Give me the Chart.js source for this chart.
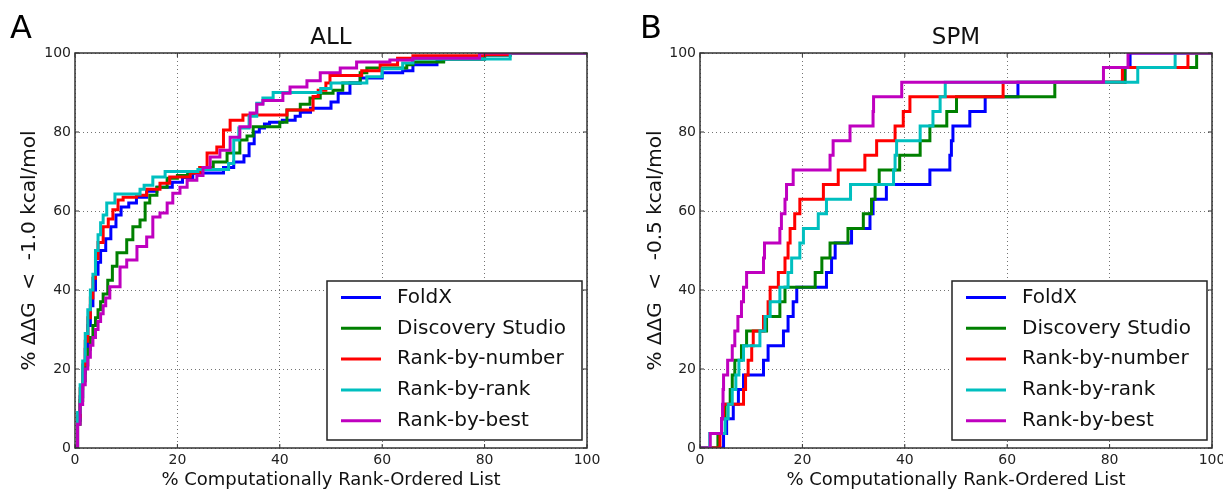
<!DOCTYPE html>
<html>
<head>
<meta charset="utf-8">
<script src="https://cdn.jsdelivr.net/npm/chart.js@4.4.1/dist/chart.umd.min.js"></script>
<style>
  body { margin: 0; background: #fff; }
  #wrap { position: relative; width: 1223px; height: 491px; }
  canvas { position: absolute; top: 0; }
</style>
</head>
<body>
<div id="wrap">
  <canvas id="chart-all" width="611" height="491" style="left:0"></canvas>
  <canvas id="chart-spm" width="612" height="491" style="left:611px"></canvas>
</div>
<script>
const seriesNames = ['FoldX', 'Discovery Studio', 'Rank-by-number', 'Rank-by-rank', 'Rank-by-best'];
const seriesColors = ['#0000ff', '#008000', '#ff0000', '#00bfbf', '#bf00bf'];
const axisTicks = [0, 20, 40, 60, 80, 100];

// panel A: ALL  ([% of list, % found])
const allFoldx = [[0,0],[0.5,7],[1,13],[1.5,19],[2,25],[2.5,31],[3,36],[3.5,40],[4,44],[4.5,47],[5,50],[6,53],[7,56],[8,59],[9,61],[10.5,62],[12,63.5],[14,65],[16,66],[19,67.3],[21,68.5],[23,69.6],[29,71],[31,72.4],[33,74],[34,77],[35,80],[36,81],[37,82],[38,82.5],[40.5,83],[43,84],[44,85],[46,86],[50,87.6],[51.4,89.8],[53.7,92.4],[55.7,93.7],[60,95],[64,95.5],[66,97],[70.7,98],[72,98.5],[80,99.5],[85,100],[100,100]];
const allDiscovery = [[0,0],[0.5,6],[1,12],[1.5,17],[2,21],[2.5,25],[3,28],[3.5,31],[4,33],[4.5,35],[5,37],[5.5,39],[6.4,42.5],[7.3,46],[8.2,49.4],[10.1,52.7],[11.3,56],[12.7,57.7],[13.7,62],[14.6,64],[16,66],[18,68.3],[20,69],[22,69.6],[24.4,71],[27,72.4],[29.7,74.7],[32.2,78],[33.6,79],[34.8,81.3],[40,82.5],[41.4,85.6],[44,87],[45.9,88.6],[47.9,89.8],[50.4,90.6],[52.3,92.4],[55.7,95],[57,96.2],[64.8,97],[66,97.7],[72,98.5],[80,99.5],[85,100],[100,100]];
const allNumber = [[0,0],[0.5,8],[1,15],[1.5,21],[2,27],[2.5,33],[3,38],[3.5,43],[4,48],[4.5,52],[5.5,56],[6.5,58],[7.4,60.3],[8.4,62.8],[9.4,63.5],[12,64],[14,65.5],[16.6,67],[18.5,68.6],[22.5,69.6],[24.4,71],[25.8,74.7],[27.7,76.2],[29,80.5],[30.3,83],[32.8,84.3],[41.4,85.6],[46.5,89],[47.5,90.6],[49,92.4],[49.8,94.3],[56,95.5],[59.6,97],[63,98.7],[66,99.3],[80,99.6],[85,100],[100,100]];
const allRank = [[0,0],[0.5,9],[1,16],[1.5,22],[2,29],[2.5,35],[3,40],[3.5,44],[4,50],[4.5,54],[5,57],[5.5,59],[6.2,62],[7.8,64.3],[12.7,65.5],[13.5,66.5],[15.2,68.6],[17.6,70],[24,70.5],[30,72],[31,78],[32,81],[34,84],[35.5,87.3],[36.7,88.6],[38.7,90],[48,91],[50,92.4],[57,94],[60,96],[64,97.5],[66,98.5],[85,100],[100,100]];
const allBest = [[0,0],[0.5,6],[1,11],[1.5,16],[2,20],[2.5,23],[3,26],[3.5,28],[4,30],[4.5,32],[5,34],[5.5,36],[6,38],[6.8,40.8],[8.8,45.8],[10.1,47.6],[12.1,51],[14,53.4],[15.2,58.5],[16.6,59.5],[18,62],[19.1,64.5],[20.5,66],[21.9,67.8],[23.8,69],[25,71],[26.4,73.7],[28.3,75.4],[30.3,78.7],[32.2,81.3],[34.2,84.8],[35.5,87],[36.7,88],[40.6,89.8],[42,91.4],[45.3,93],[47.9,95],[51.8,96.2],[55,97.7],[61.5,98.2],[66,98.7],[79,100],[100,100]];

// panel B: SPM
const spmFoldx = [[0,0],[4.6,3.7],[5.2,7.4],[6.5,11.1],[7.5,14.8],[8.5,18.5],[12.4,22.2],[13.3,25.9],[16.3,29.6],[17.2,33.3],[18.2,37.0],[18.9,40.7],[24.7,44.4],[25.7,48.1],[26.4,51.9],[29.6,55.6],[33.2,59.3],[33.8,63.0],[36.4,66.7],[44.9,70.4],[48.8,74.1],[49.1,77.8],[49.4,81.5],[52.7,85.2],[55.7,88.9],[62.1,92.6],[83,96.3],[84,100],[100,100]];
const spmDiscovery = [[0,0],[3.5,3.7],[4.2,7.4],[4.9,11.1],[5.9,14.8],[6.3,18.5],[6.8,22.2],[8.1,25.9],[9.1,29.6],[13.0,33.3],[15.6,37.0],[16.6,40.7],[22.5,44.4],[23.8,48.1],[25.4,51.9],[28.9,55.6],[31.9,59.3],[33.5,63.0],[34.2,66.7],[35.0,70.4],[39,74.1],[43,77.8],[44.9,81.5],[48.2,85.2],[50.1,88.9],[69.3,92.6],[83,96.3],[97,100],[100,100]];
const spmNumber = [[0,0],[3.9,3.7],[4.2,7.4],[4.6,11.1],[8.5,14.8],[8.9,18.5],[9.4,22.2],[10.1,25.9],[10.4,29.6],[12.4,33.3],[13.3,37.0],[13.7,40.7],[15.3,44.4],[16.6,48.1],[17.2,51.9],[17.6,55.6],[18.5,59.3],[19.5,63.0],[24.1,66.7],[27,70.4],[32.2,74.1],[34.5,77.8],[38.1,81.5],[39.7,85.2],[41,88.9],[59.2,92.6],[82.5,96.3],[95.3,100],[100,100]];
const spmRank = [[0,0],[1.9,3.7],[4.9,7.4],[5.5,11.1],[6.3,14.8],[7,18.5],[7.6,22.2],[8.5,25.9],[11.7,29.6],[12.7,33.3],[13.7,37.0],[15.6,40.7],[17.2,44.4],[17.9,48.1],[19.5,51.9],[20.2,55.6],[23.1,59.3],[24.7,63.0],[29.4,66.7],[37.8,70.4],[38.1,74.1],[38.4,77.8],[43,81.5],[45.5,85.2],[46.9,88.9],[47.9,92.6],[85.5,96.3],[92.8,100],[100,100]];
const spmBest = [[0,0],[2,3.7],[4.2,7.4],[4.4,11.1],[4.5,14.8],[4.6,18.5],[5.4,22.2],[6.3,25.9],[6.8,29.6],[7.4,33.3],[8.1,37.0],[8.5,40.7],[9.1,44.4],[12.4,48.1],[12.6,51.9],[15.6,55.6],[15.9,59.3],[16.6,63.0],[16.9,66.7],[18.2,70.4],[25.4,74.1],[26.0,77.8],[29.3,81.5],[33.8,85.2],[33.9,88.9],[39.4,92.6],[78.8,96.3],[83.6,100],[100,100]];

const FONT = '"DejaVu Sans", sans-serif';

// box round the axes, inward ticks, panel letter, legend inside the plot
const framePlugin = {
  id: 'frame',
  afterDraw(chart, args, opts) {
    const { ctx, chartArea: ca } = chart;
    const xs = chart.scales.x, ys = chart.scales.y;
    ctx.save();
    ctx.strokeStyle = '#333';
    ctx.lineWidth = 1.5;
    ctx.strokeRect(ca.left, ca.top, ca.right - ca.left, ca.bottom - ca.top);
    ctx.lineWidth = 1;
    ctx.beginPath();
    axisTicks.forEach(t => {
      const px = xs.getPixelForValue(t), py = ys.getPixelForValue(t);
      ctx.moveTo(px, ca.bottom); ctx.lineTo(px, ca.bottom - 4);
      ctx.moveTo(px, ca.top); ctx.lineTo(px, ca.top + 4);
      ctx.moveTo(ca.left, py); ctx.lineTo(ca.left + 4, py);
      ctx.moveTo(ca.right, py); ctx.lineTo(ca.right - 4, py);
    });
    ctx.stroke();

    ctx.fillStyle = '#000';
    ctx.font = '32px ' + FONT;
    ctx.textBaseline = 'alphabetic';
    ctx.fillText(opts.letter, opts.letterX, 38);

    // legend, lower right
    const w = 255, h = 159;
    const x0 = ca.right - 5 - w, y0 = ca.bottom - 8 - h;
    ctx.fillStyle = '#fff';
    ctx.fillRect(x0, y0, w, h);
    ctx.strokeStyle = '#222';
    ctx.lineWidth = 1.5;
    ctx.strokeRect(x0, y0, w, h);
    ctx.font = '20px ' + FONT;
    ctx.textBaseline = 'middle';
    chart.data.datasets.forEach((ds, i) => {
      const y = y0 + 16.5 + i * 30.8;
      ctx.strokeStyle = ds.borderColor;
      ctx.lineWidth = 3;
      ctx.beginPath();
      ctx.moveTo(x0 + 14, y);
      ctx.lineTo(x0 + 54, y);
      ctx.stroke();
      ctx.fillStyle = '#111';
      ctx.fillText(ds.label, x0 + 70, y);
    });
    ctx.restore();
  }
};

function makeChart(id, title, yTitle, series, side) {
  const datasets = series.map((pts, i) => ({
    label: seriesNames[i],
    data: pts.map(p => ({ x: p[0], y: p[1] })),
    borderColor: seriesColors[i],
    borderWidth: 3,
    pointRadius: 0,
    stepped: true,
    fill: false,
    order: series.length - i
  }));
  return new Chart(document.getElementById(id), {
    type: 'line',
    data: { datasets },
    plugins: [framePlugin],
    options: {
      responsive: false,
      animation: false,
      events: [],
      layout: { padding: { left: 0, right: side.right, top: 0, bottom: 0 } },
      scales: {
        x: {
          type: 'linear',
          min: 0,
          max: 100,
          ticks: { stepSize: 20, color: '#222', padding: 4, font: { family: FONT, size: 14 } },
          grid: { color: 'rgba(0,0,0,0.55)', lineWidth: 1, drawTicks: false },
          border: { display: false, dash: [1, 3] },
          title: { display: true, text: '% Computationally Rank-Ordered List', color: '#111',
                   font: { family: FONT, size: 18 }, padding: { top: 0, bottom: 0 } },
          afterFit(s) { s.height = 43; s.paddingLeft = 0; s.paddingRight = 0; }
        },
        y: {
          min: 0,
          max: 100,
          ticks: { stepSize: 20, color: '#222', padding: 4, font: { family: FONT, size: 14 } },
          grid: { color: 'rgba(0,0,0,0.55)', lineWidth: 1, drawTicks: false },
          border: { display: false, dash: [1, 3] },
          title: { display: true, text: yTitle, color: '#111',
                   font: { family: FONT, size: 20 }, padding: { top: side.yTitlePad, bottom: 0 } },
          afterFit(s) { s.width = side.yWidth; s.paddingTop = 0; s.paddingBottom = 0; }
        }
      },
      plugins: {
        legend: { display: false },
        tooltip: { enabled: false },
        title: {
          display: true,
          text: title,
          fullSize: false,
          color: '#111',
          font: { family: FONT, size: 23, weight: 'normal' },
          padding: { top: 24.2, bottom: 1.2 }
        },
        frame: { letter: side.letter, letterX: side.letterX }
      }
    }
  });
}

makeChart('chart-all', 'ALL', '% \u0394\u0394G  <  -1.0 kcal/mol',
  [allFoldx, allDiscovery, allNumber, allRank, allBest],
  { right: 24, yWidth: 75, yTitlePad: 18, letter: 'A', letterX: 10 });
makeChart('chart-spm', 'SPM', '% \u0394\u0394G  <  -0.5 kcal/mol',
  [spmFoldx, spmDiscovery, spmNumber, spmRank, spmBest],
  { right: 11, yWidth: 89, yTitlePad: 33, letter: 'B', letterX: 29 });
</script>
</body>
</html>
